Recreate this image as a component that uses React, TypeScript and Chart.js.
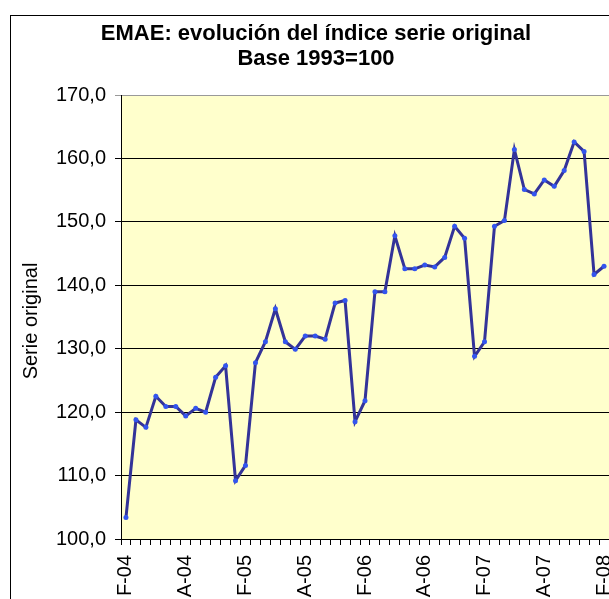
import React, { useEffect, useRef } from "react";
import { Chart, registerables } from "chart.js";

Chart.register(...registerables);

const months: string[] = [
  "F-04", "M-04", "A-04", "M-04", "J-04", "J-04", "A-04", "S-04", "O-04", "N-04", "D-04",
  "E-05", "F-05", "M-05", "A-05", "M-05", "J-05", "J-05", "A-05", "S-05", "O-05", "N-05", "D-05",
  "E-06", "F-06", "M-06", "A-06", "M-06", "J-06", "J-06", "A-06", "S-06", "O-06", "N-06", "D-06",
  "E-07", "F-07", "M-07", "A-07", "M-07", "J-07", "J-07", "A-07", "S-07", "O-07", "N-07", "D-07",
  "E-08", "F-08",
];

const serieOriginal: number[] = [
  103.4, 118.8, 117.6, 122.5, 120.9, 120.9, 119.4, 120.6, 120.0, 125.5, 127.3,
  109.2, 111.6, 127.8, 131.1, 136.3, 131.1, 129.9, 132.0, 132.0, 131.5, 137.2, 137.6,
  118.5, 121.8, 139.0, 139.0, 147.8, 142.6, 142.6, 143.2, 142.9, 144.4, 149.3, 147.4,
  128.8, 131.1, 149.3, 150.2, 161.4, 155.1, 154.4, 156.6, 155.6, 158.1, 162.6, 161.1,
  141.7, 143.0,
];

const titleLines: string[] = ["EMAE: evolución del índice serie original", "Base 1993=100"];
const yTitle = "Serie original";
const yMin = 100;
const yMax = 170;
const yStep = 10;

const FONT = '"Liberation Sans", Arial, sans-serif';

export default function App() {
  const ref = useRef<HTMLCanvasElement | null>(null);

  useEffect(() => {
    if (!ref.current) return;
    const decor = {
      id: "decor",
      beforeDraw(chart: any) {
        const { ctx, chartArea } = chart;
        ctx.save();
        ctx.fillStyle = "#ffffff";
        ctx.fillRect(0, 0, chart.width, chart.height);
        ctx.strokeStyle = "#000000";
        ctx.lineWidth = 1;
        ctx.strokeRect(10.5, 15.5, 800, 800);
        ctx.fillStyle = "#FFFFCC";
        ctx.fillRect(chartArea.left, chartArea.top, chartArea.right - chartArea.left, chartArea.bottom - chartArea.top);
        ctx.restore();
      },
      afterDraw(chart: any) {
        const { ctx } = chart;
        ctx.save();
        ctx.fillStyle = "#000000";
        ctx.textAlign = "center";
        ctx.textBaseline = "middle";
        ctx.font = `bold 22px ${FONT}`;
        ctx.fillText(titleLines[0], 316, 34);
        ctx.fillText(titleLines[1], 316, 59);
        ctx.translate(31, 321);
        ctx.rotate(-Math.PI / 2);
        ctx.font = `20px ${FONT}`;
        ctx.fillText(yTitle, 0, 0);
        ctx.restore();
      },
    };

    const chart = new Chart(ref.current, {
      type: "line",
      data: {
        labels: months,
        datasets: [
          {
            data: serieOriginal,
            borderColor: "#333399",
            borderWidth: 3,
            pointRadius: 2.5,
            pointBackgroundColor: "#3355ee",
            pointBorderWidth: 0,
            tension: 0,
            fill: false,
          },
        ],
      },
      options: {
        responsive: false,
        animation: false,
        devicePixelRatio: 1,
        layout: { padding: { left: 0, right: 31, top: 95, bottom: 0 } },
        plugins: {
          legend: { display: false },
          title: { display: false },
          tooltip: { enabled: false },
        },
        scales: {
          x: {
            type: "category",
            offset: true,
            grid: {
              offset: true,
              drawOnChartArea: false,
              drawTicks: true,
              tickLength: 6,
              color: "#000000",
            },
            border: { display: true, color: "#000000", width: 1 },
            ticks: {
              autoSkip: false,
              maxRotation: 90,
              minRotation: 90,
              padding: 10,
              color: "#000000",
              font: { family: FONT, size: 20 },
              callback: (_v: any, i: number) => (i % 6 === 0 ? months[i] : ""),
            },
            afterFit: (scale: any) => {
              scale.height = 101;
            },
          },
          y: {
            min: yMin,
            max: yMax,
            grid: {
              drawTicks: true,
              tickLength: 6,
              color: (c: any) => (c.tick && c.tick.value === yMax ? "#999999" : "#000000"),
            },
            border: { display: true, color: "#000000", width: 1 },
            ticks: {
              stepSize: yStep,
              padding: 9,
              color: "#000000",
              font: { family: FONT, size: 20 },
              callback: (v: any) => Number(v).toFixed(1).replace(".", ","),
            },
            afterFit: (scale: any) => {
              scale.width = 121;
            },
          },
        },
      },
      plugins: [decor],
    });
    return () => chart.destroy();
  }, []);

  return (
    <div style={{ position: "fixed", left: 0, top: 0, width: 609, height: 599, overflow: "hidden", background: "#fff" }}>
      <canvas ref={ref} width={640} height={640} style={{ position: "absolute", left: 0, top: 0 }} />
    </div>
  );
}
